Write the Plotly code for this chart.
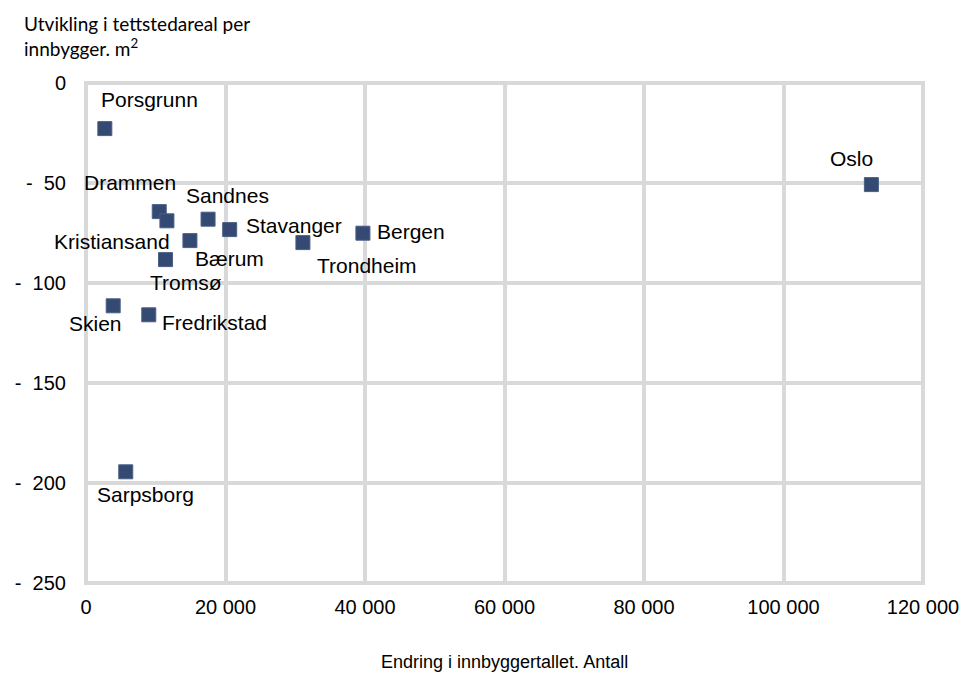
import plotly.graph_objects as go

# Tettsteder: endring i innbyggertall og endring i tettstedareal per innbygger
cities = ["Porsgrunn", "Oslo", "Drammen", "Kristiansand", "Sandnes", "Stavanger",
          "Bergen", "Trondheim", "Bærum", "Tromsø", "Skien", "Fredrikstad", "Sarpsborg"]
pop_change = [2700, 112600, 10500, 11600, 17500, 20600,
              39700, 31100, 14900, 11400, 3900, 9000, 5700]
area_change = [-22.8, -50.8, -64.3, -68.9, -68.1, -73.3,
               -75.1, -79.8, -78.8, -88.3, -111.4, -115.9, -194.4]

# label offsets in pixels (x right, y up)
label_shift = {
    "Porsgrunn": (45, 29), "Oslo": (-20, 26), "Drammen": (-29, 29),
    "Kristiansand": (-55, -21), "Sandnes": (19, 24), "Stavanger": (64, 4),
    "Bergen": (48, 2), "Trondheim": (64, -23), "Bærum": (40, -18),
    "Tromsø": (20, -23), "Skien": (-18, -18), "Fredrikstad": (66, -8),
    "Sarpsborg": (20, -23),
}

x_ticks = [0, 20000, 40000, 60000, 80000, 100000, 120000]
x_ticktext = ["0", "20 000", "40 000", "60 000", "80 000", "100 000", "120 000"]
y_ticks = [0, -50, -100, -150, -200, -250]
y_ticktext = ["0", "-\u00a0\u00a050", "-\u00a0\u00a0100", "-\u00a0\u00a0150",
              "-\u00a0\u00a0200", "-\u00a0\u00a0250"]

grid = "#d9d9d9"
font = "Liberation Sans, Arial, sans-serif"

fig = go.Figure()

# frame around the plotting area, same style as the grid
fig.add_shape(type="rect", xref="paper", yref="paper", x0=0, x1=1, y0=0, y1=1,
              line=dict(color=grid, width=4), layer="below")

fig.add_trace(go.Scatter(
    x=pop_change, y=area_change, mode="markers",
    marker=dict(symbol="square", size=14, color="#344a72",
                line=dict(color="#4a5f85", width=1)),
    hoverinfo="skip", showlegend=False,
))

for name, xv, yv in zip(cities, pop_change, area_change):
    dx, dy = label_shift[name]
    fig.add_annotation(x=xv, y=yv, text=name, showarrow=False,
                       xshift=dx, yshift=dy, xanchor="center", yanchor="middle",
                       font=dict(family=font, size=21, color="#000000"))

fig.add_annotation(xref="paper", yref="paper", x=0.5, y=-0.181,
                   xanchor="center", yanchor="bottom", showarrow=False,
                   text="Endring i innbyggertallet. Antall",
                   font=dict(family=font, size=18, color="#000000"))
fig.add_annotation(xref="paper", yref="paper", x=-0.077, y=1.145,
                   xanchor="left", yanchor="top", showarrow=False, align="left",
                   text="Utvikling i tettstedareal per<br>innbygger. m<sup>2</sup>",
                   font=dict(family="Lato, Open Sans, sans-serif", size=19, color="#000000"))

fig.update_xaxes(range=[0, 120000], tickvals=x_ticks, ticktext=x_ticktext,
                 showgrid=True, gridcolor=grid, gridwidth=4, zeroline=False,
                 showline=False, ticks="", ticklabelstandoff=10, automargin=False,
                 tickfont=dict(family=font, size=20, color="#000000"))
fig.update_yaxes(range=[-250, 0], tickvals=y_ticks, ticktext=y_ticktext,
                 showgrid=True, gridcolor=grid, gridwidth=4, zeroline=False,
                 showline=False, ticks="", ticklabelstandoff=19, automargin=False,
                 tickfont=dict(family=font, size=20, color="#000000"))

fig.update_layout(width=964, height=674, margin=dict(l=86, r=41, t=83, b=91),
                  plot_bgcolor="white", paper_bgcolor="white")

fig.write_html("out.html")
